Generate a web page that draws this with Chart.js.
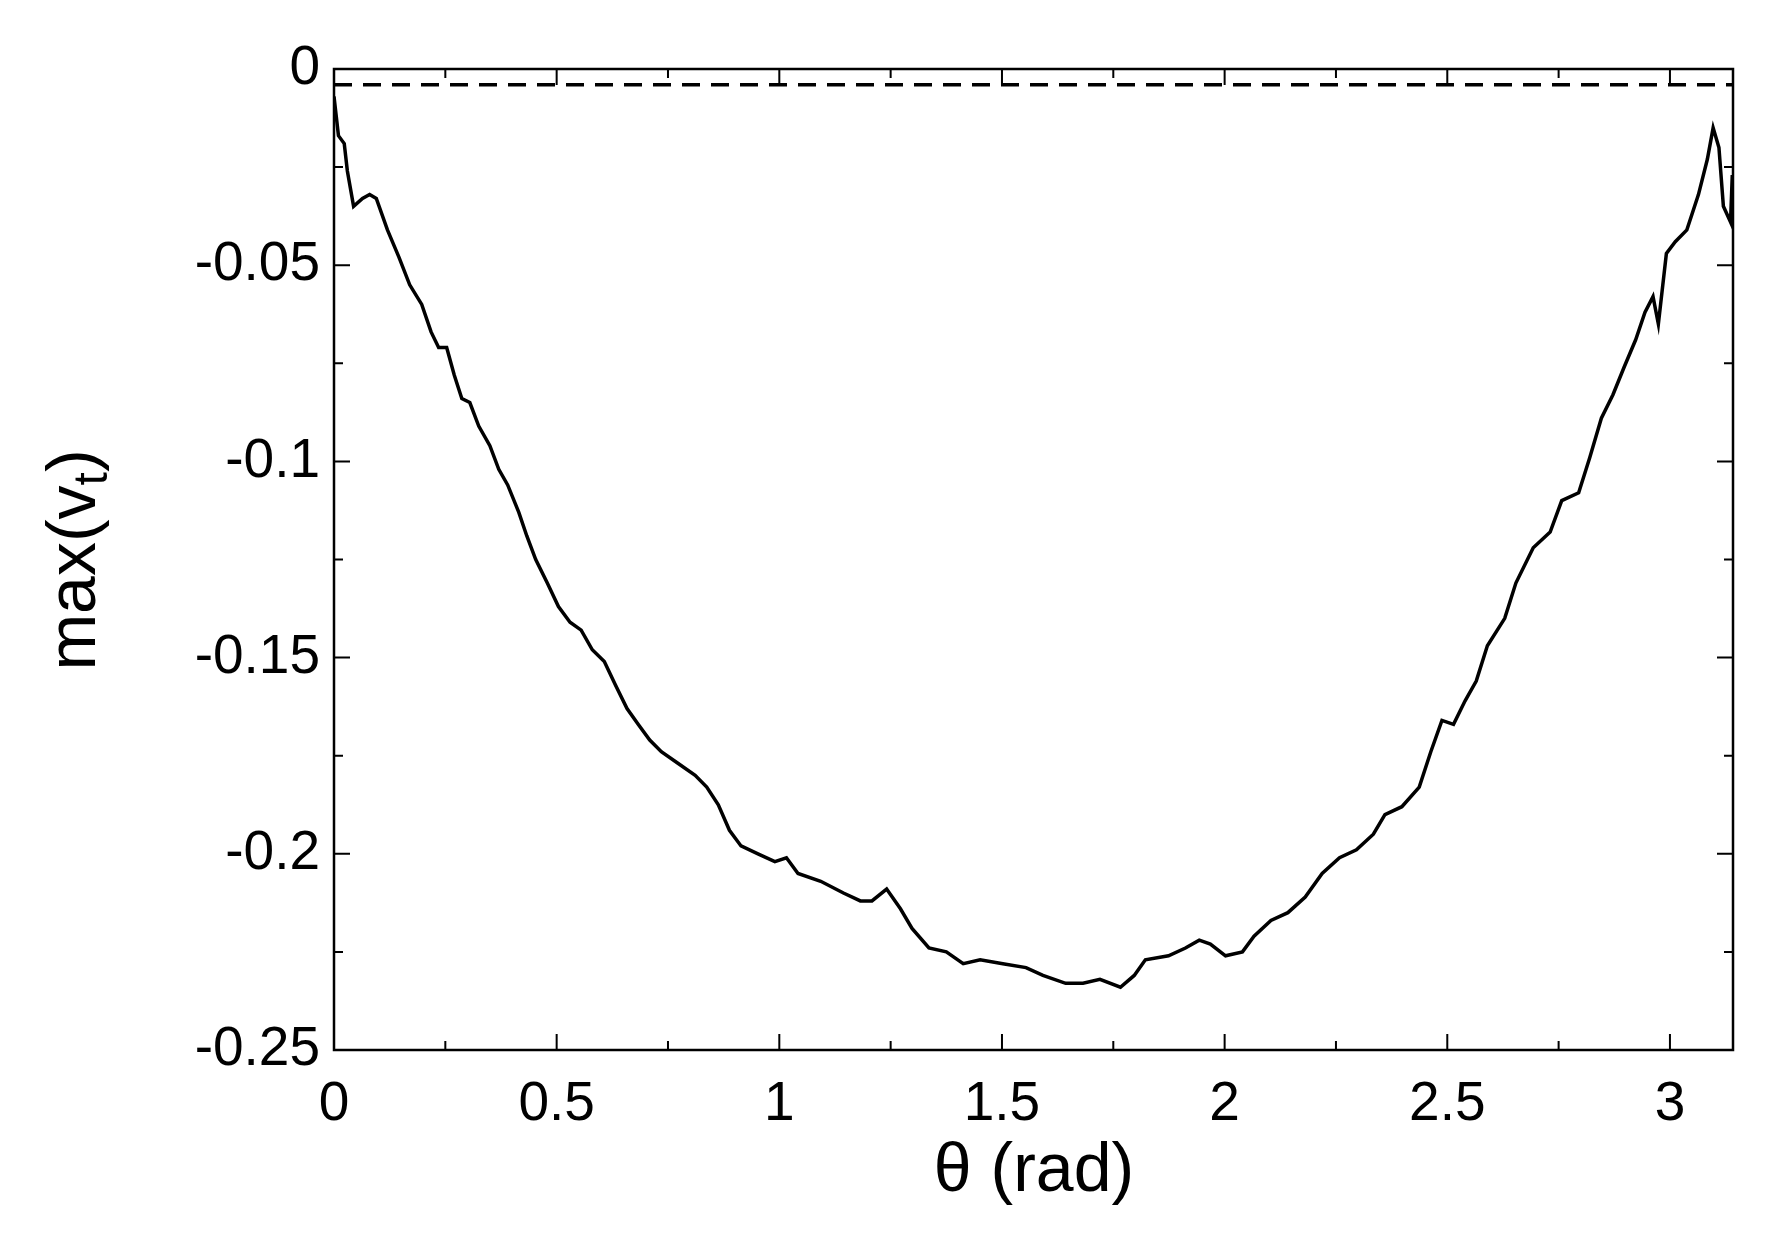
<!DOCTYPE html>
<html>
<head>
<meta charset="utf-8">
<script src="https://cdn.jsdelivr.net/npm/chart.js@4/dist/chart.umd.min.js"></script>
<style>
  html, body { margin: 0; padding: 0; background: #fff; }
  #wrap { width: 1779px; height: 1233px; }
</style>
</head>
<body>
<div id="wrap"><canvas id="chart"></canvas></div>
<script>
// values
const theta = [0, 0.01, 0.023, 0.03, 0.044, 0.064, 0.08, 0.095, 0.12, 0.146, 0.17, 0.197, 0.218, 0.235, 0.253, 0.27, 0.287, 0.305, 0.325, 0.35, 0.37, 0.39, 0.415, 0.433, 0.453, 0.479, 0.504, 0.53, 0.555, 0.58, 0.607, 0.632, 0.658, 0.683, 0.709, 0.735, 0.773, 0.811, 0.837, 0.863, 0.888, 0.914, 0.952, 0.99, 1.016, 1.042, 1.093, 1.144, 1.182, 1.208, 1.241, 1.272, 1.298, 1.336, 1.375, 1.413, 1.451, 1.502, 1.554, 1.592, 1.643, 1.682, 1.72, 1.766, 1.797, 1.822, 1.874, 1.912, 1.943, 1.968, 2.002, 2.04, 2.066, 2.104, 2.142, 2.181, 2.219, 2.258, 2.296, 2.334, 2.36, 2.398, 2.437, 2.463, 2.488, 2.514, 2.54, 2.565, 2.59, 2.629, 2.654, 2.693, 2.731, 2.757, 2.795, 2.82, 2.846, 2.872, 2.897, 2.923, 2.944, 2.962, 2.974, 2.992, 3.012, 3.038, 3.064, 3.084, 3.097, 3.11, 3.12, 3.136, 3.14];
const maxVt = [-0.007, -0.017, -0.019, -0.026, -0.035, -0.033, -0.032, -0.033, -0.041, -0.048, -0.055, -0.06, -0.067, -0.071, -0.071, -0.078, -0.084, -0.085, -0.091, -0.096, -0.102, -0.106, -0.113, -0.119, -0.125, -0.131, -0.137, -0.141, -0.143, -0.148, -0.151, -0.157, -0.163, -0.167, -0.171, -0.174, -0.177, -0.18, -0.183, -0.1875, -0.194, -0.198, -0.2, -0.202, -0.201, -0.205, -0.207, -0.21, -0.212, -0.212, -0.209, -0.214, -0.219, -0.224, -0.225, -0.228, -0.227, -0.228, -0.229, -0.231, -0.233, -0.233, -0.232, -0.234, -0.231, -0.227, -0.226, -0.224, -0.222, -0.223, -0.226, -0.225, -0.221, -0.217, -0.215, -0.211, -0.205, -0.201, -0.199, -0.195, -0.19, -0.188, -0.183, -0.174, -0.166, -0.167, -0.161, -0.156, -0.147, -0.14, -0.131, -0.122, -0.118, -0.11, -0.108, -0.099, -0.089, -0.083, -0.076, -0.069, -0.062, -0.058, -0.065, -0.047, -0.044, -0.041, -0.032, -0.023, -0.015, -0.02, -0.035, -0.039, -0.027];
const refX = [0, Math.PI];
const refY = [-0.004, -0.004];
const xTickStep = 0.5;
const yTickStep = 0.05;

const fontName = "'Liberation Sans', Arial, sans-serif";

// frame, inside major/minor ticks and axis titles
const framePlugin = {
  id: "frame",
  afterDraw(chart) {
    const { ctx, chartArea: a, scales } = chart;
    const xs = scales.x, ys = scales.y;
    ctx.save();
    ctx.strokeStyle = "#000";
    ctx.lineWidth = 2.5;
    ctx.strokeRect(a.left, a.top, a.right - a.left, a.bottom - a.top);
    ctx.lineWidth = 2;
    ctx.beginPath();
    for (let v = 0; v <= Math.PI; v += 0.25) {
      const px = xs.getPixelForValue(v);
      const len = Math.abs(v / 0.5 - Math.round(v / 0.5)) < 1e-6 ? 16 : 9;
      ctx.moveTo(px, a.bottom); ctx.lineTo(px, a.bottom - len);
      ctx.moveTo(px, a.top); ctx.lineTo(px, a.top + len);
    }
    for (let i = 0; i <= 10; i++) {
      const v = -0.25 + i * 0.025;
      const py = ys.getPixelForValue(v);
      const len = i % 2 === 0 ? 16 : 9;
      ctx.moveTo(a.left, py); ctx.lineTo(a.left + len, py);
      ctx.moveTo(a.right, py); ctx.lineTo(a.right - len, py);
    }
    ctx.stroke();

    ctx.fillStyle = "#000";
    ctx.textAlign = "center";
    ctx.textBaseline = "middle";
    ctx.font = "68px " + fontName;
    ctx.fillText("\u03B8 (rad)", 1034, 1172);

    ctx.translate(76, 560);
    ctx.rotate(-Math.PI / 2);
    ctx.textAlign = "left";
    const main = "max(v";
    const w1 = ctx.measureText(main).width;
    ctx.font = "48px " + fontName;
    const wsub = ctx.measureText("t").width;
    ctx.font = "68px " + fontName;
    const w2 = ctx.measureText(")").width;
    const total = w1 + wsub + w2;
    let x0 = -total / 2;
    ctx.fillText(main, x0, 0);
    ctx.font = "48px " + fontName;
    ctx.fillText("t", x0 + w1, 18);
    ctx.font = "68px " + fontName;
    ctx.fillText(")", x0 + w1 + wsub, 0);
    ctx.restore();
  }
};

new Chart("chart", {
  type: "scatter",
  data: {
    datasets: [
      {
        data: theta.map((t, i) => ({ x: t, y: maxVt[i] })),
        showLine: true,
        borderColor: "#000",
        borderWidth: 3.5,
        pointRadius: 0,
        tension: 0,
      },
      {
        data: refX.map((t, i) => ({ x: t, y: refY[i] })),
        showLine: true,
        borderColor: "#000",
        borderWidth: 3.5,
        borderDash: [18, 11],
        pointRadius: 0,
      },
    ],
  },
  options: {
    responsive: true,
    maintainAspectRatio: false,
    animation: false,
    layout: { padding: { left: 0, right: 46, top: 69, bottom: 0 } },
    plugins: { legend: { display: false }, tooltip: { enabled: false } },
    scales: {
      x: {
        type: "linear",
        min: 0,
        max: Math.PI,
        grid: { display: false, drawTicks: false },
        border: { display: false },
        afterFit: (s) => { s.height = 183; },
        ticks: {
          stepSize: xTickStep,
          includeBounds: false,
          maxRotation: 0,
          padding: 22,
          color: "#000",
          font: { family: fontName, size: 55 },
          callback: (v) => String(Math.round(v * 10) / 10),
        },
      },
      y: {
        type: "linear",
        min: -0.25,
        max: 0,
        grid: { display: false, drawTicks: false },
        border: { display: false },
        afterFit: (s) => { s.width = 334; },
        ticks: {
          stepSize: yTickStep,
          padding: 14,
          color: "#000",
          font: { family: fontName, size: 55 },
          callback: (v) => String(Math.round(v * 100) / 100),
        },
      },
    },
  },
  plugins: [framePlugin],
});
</script>
</body>
</html>
